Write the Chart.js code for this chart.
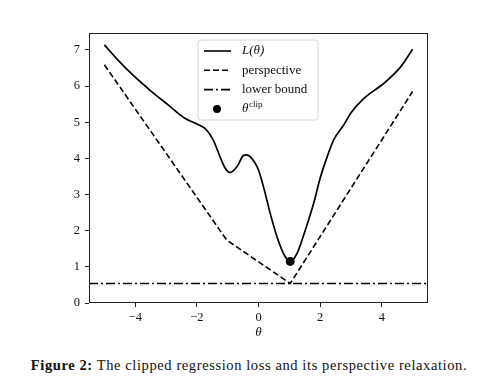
<!DOCTYPE html>
<html lang="en">
<head>
<meta charset="UTF-8">
<title>Clipped regression loss</title>
<script src="https://cdn.jsdelivr.net/npm/chart.js@4.4.0/dist/chart.umd.min.js"></script>
<style>
    body { margin: 0; background: #fff; }
    .wrap { position: relative; width: 498px; height: 390px; }
    .caption {
        position: absolute;
        left: 0;
        width: 498px;
        top: 357px;
        text-align: center;
        font-family: "Liberation Serif", "DejaVu Serif", serif;
        font-size: 14.5px;
        letter-spacing: 0.6px;
        color: #111;
    }
</style>
</head>
<body>
<div class="wrap">
    <canvas id="myChart" width="498" height="340"></canvas>
    <div class="caption"><b>Figure 2:</b> The clipped regression loss and its perspective relaxation.</div>
</div>
<script>
    // values
    const lossTheta = [-5, -4.56, -4.02, -3.47, -2.93, -2.39, -2.0, -1.7, -1.47, -1.25, -1.08, -0.92, -0.7, -0.49, -0.4, -0.27, 0, 0.16, 0.38, 0.6, 0.81, 1.03, 1.25, 1.52, 1.79, 2.0, 2.23, 2.44, 2.77, 2.99, 3.42, 4.07, 4.62, 5.0];
    const lossValue = [7.14, 6.72, 6.26, 5.85, 5.48, 5.11, 4.95, 4.8, 4.51, 4.05, 3.73, 3.61, 3.77, 4.08, 4.1, 4.05, 3.68, 3.22, 2.48, 1.83, 1.37, 1.14, 1.37, 2.02, 2.76, 3.45, 4.05, 4.51, 4.93, 5.25, 5.66, 6.08, 6.54, 7.02];
    const perspTheta = [-5, -1.03, 1.03, 5];
    const perspValue = [6.59, 1.74, 0.54, 5.85];
    const boundTheta = [-5.5, 5.5];
    const boundValue = [0.54, 0.54];
    const clipTheta = [1.03];
    const clipValue = [1.15];
    const xTicks = [-4, -2, 0, 2, 4];
    const yTicks = [0, 1, 2, 3, 4, 5, 6, 7];

    function pts(xs, ys) {
        return xs.map(function (x, i) { return { x: x, y: ys[i] }; });
    }

    const serif = '"Liberation Serif", "DejaVu Serif", serif';

    // matplotlib-like frame + legend inside the axes
    const framePlugin = {
        id: 'frame',
        afterDraw: function (chart) {
            const ctx = chart.ctx;
            const a = chart.chartArea;
            ctx.save();
            ctx.strokeStyle = '#222';
            ctx.lineWidth = 1;
            ctx.strokeRect(a.left + 0.5, a.top + 0.5, a.right - a.left - 1, a.bottom - a.top - 1);

            // legend box
            const bx = 198, by = 40, bw = 120, bh = 80, r = 3;
            ctx.beginPath();
            ctx.moveTo(bx + r, by);
            ctx.arcTo(bx + bw, by, bx + bw, by + bh, r);
            ctx.arcTo(bx + bw, by + bh, bx, by + bh, r);
            ctx.arcTo(bx, by + bh, bx, by, r);
            ctx.arcTo(bx, by, bx + bw, by, r);
            ctx.closePath();
            ctx.fillStyle = 'rgba(255,255,255,0.85)';
            ctx.fill();
            ctx.strokeStyle = '#d6d6d6';
            ctx.stroke();

            const rows = [
                { label: 'L(θ)', dash: [], italic: true },
                { label: 'perspective', dash: [6, 3] },
                { label: 'lower bound', dash: [9, 3, 2, 3] },
                { label: 'θ', dot: true }
            ];
            ctx.fillStyle = '#111';
            ctx.strokeStyle = '#000';
            ctx.lineWidth = 1.6;
            ctx.textBaseline = 'middle';
            rows.forEach(function (row, i) {
                const y = 51 + i * 19.3;
                if (row.dot) {
                    ctx.beginPath();
                    ctx.arc(217, y, 4, 0, Math.PI * 2);
                    ctx.fillStyle = '#000';
                    ctx.fill();
                    ctx.fillStyle = '#111';
                    ctx.font = 'italic 13px ' + serif;
                    ctx.fillText('θ', 242, y);
                    ctx.font = '9px ' + serif;
                    ctx.fillText('clip', 249, y - 4);
                } else {
                    ctx.setLineDash(row.dash);
                    ctx.beginPath();
                    ctx.moveTo(204, y);
                    ctx.lineTo(231, y);
                    ctx.stroke();
                    ctx.setLineDash([]);
                    ctx.font = (row.italic ? 'italic ' : '') + '13px ' + serif;
                    ctx.fillText(row.label, 242, y);
                }
            });
            ctx.restore();
        }
    };

    const ctx = document.getElementById('myChart').getContext('2d');
    const myChart = new Chart(ctx, {
        type: 'line',
        data: {
            datasets: [{
                label: 'L(θ)',
                data: pts(lossTheta, lossValue),
                borderColor: '#000',
                borderWidth: 1.7,
                pointRadius: 0,
                cubicInterpolationMode: 'monotone',
                fill: false
            }, {
                label: 'perspective',
                data: pts(perspTheta, perspValue),
                borderColor: '#000',
                borderWidth: 1.6,
                borderDash: [6, 3],
                pointRadius: 0,
                tension: 0,
                fill: false
            }, {
                label: 'lower bound',
                data: pts(boundTheta, boundValue),
                borderColor: '#000',
                borderWidth: 1.6,
                borderDash: [9, 3, 2, 3],
                pointRadius: 0,
                tension: 0,
                fill: false
            }, {
                label: 'θclip',
                data: pts(clipTheta, clipValue),
                showLine: false,
                pointRadius: 4.5,
                pointBackgroundColor: '#000',
                pointBorderColor: '#000',
                borderWidth: 0
            }]
        },
        options: {
            responsive: false,
            animation: false,
            devicePixelRatio: 1,
            layout: { padding: { left: 0, top: 33, right: 70, bottom: 0 } },
            plugins: {
                legend: { display: false },
                tooltip: { enabled: false }
            },
            scales: {
                x: {
                    type: 'linear',
                    min: -5.5,
                    max: 5.5,
                    afterBuildTicks: function (axis) {
                        axis.ticks = xTicks.map(function (v) { return { value: v }; });
                    },
                    afterFit: function (axis) { axis.height = 37; },
                    grid: { drawOnChartArea: false, drawTicks: true, tickLength: 4, color: '#222' },
                    border: { display: false },
                    ticks: {
                        color: '#111',
                        padding: 3,
                        font: { family: serif, size: 12.5 },
                        callback: function (v) { return String(v).replace('-', '\u2212'); }
                    },
                    title: {
                        display: true,
                        text: 'θ',
                        color: '#111',
                        padding: { top: 0, bottom: 0 },
                        font: { family: serif, size: 13, style: 'italic' }
                    }
                },
                y: {
                    type: 'linear',
                    min: 0,
                    max: 7.47,
                    afterBuildTicks: function (axis) {
                        axis.ticks = yTicks.map(function (v) { return { value: v }; });
                    },
                    afterFit: function (axis) { axis.width = 89; },
                    grid: { drawOnChartArea: false, drawTicks: true, tickLength: 4, color: '#222' },
                    border: { display: false },
                    ticks: {
                        color: '#111',
                        padding: 5,
                        font: { family: serif, size: 12.5 }
                    }
                }
            }
        },
        plugins: [framePlugin]
    });
</script>
</body>
</html>
